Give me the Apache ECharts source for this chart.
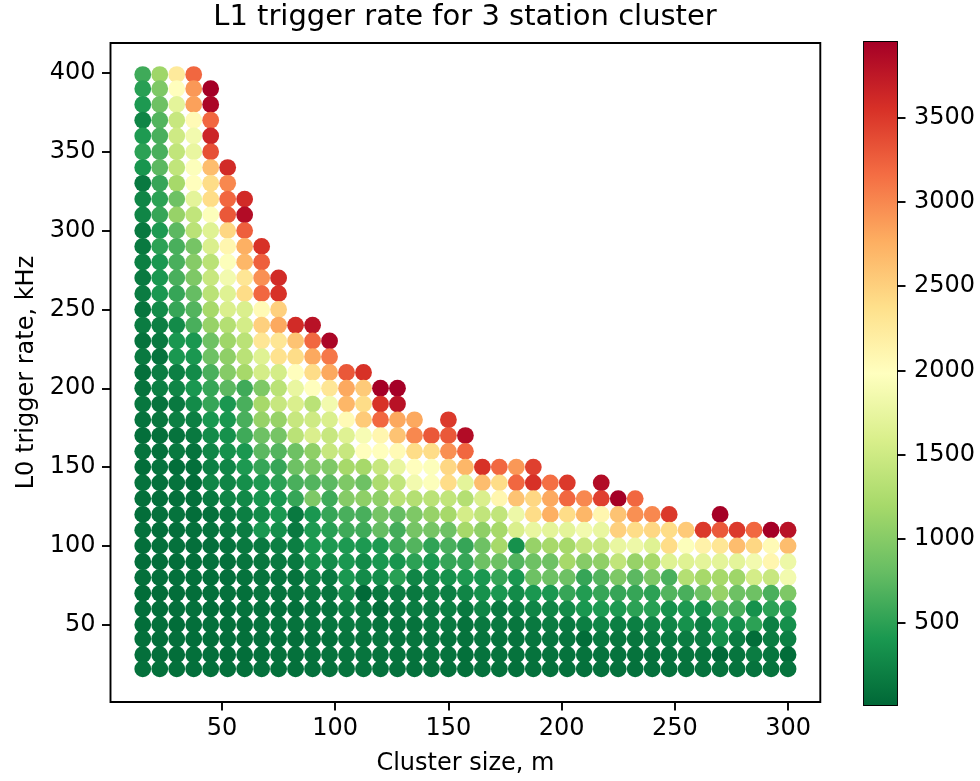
<!DOCTYPE html>
<html>
<head>
<meta charset="utf-8">
<script src="https://cdn.jsdelivr.net/npm/echarts@6/dist/echarts.min.js"></script>
<style>
html,body{margin:0;padding:0;background:#fff;}
#chart{width:980px;height:781px;}
</style>
</head>
<body>
<div id="chart"></div>
<script>
// Cluster sizes (x), one per column of dots
const clusterSize = [15, 22.5, 30, 37.5, 45, 52.5, 60, 67.5, 75, 82.5, 90, 97.5, 105, 112.5, 120, 127.5, 135, 142.5, 150, 157.5, 165, 172.5, 180, 187.5, 195, 202.5, 210, 217.5, 225, 232.5, 240, 247.5, 255, 262.5, 270, 277.5, 285, 292.5, 300];
// L0 trigger rate rows (y), bottom to top
const l0Rate = [22, 31, 41, 50, 60, 70, 80, 90, 100, 110, 120, 130, 140, 150, 160, 170, 180, 190, 200, 210, 220, 230, 240, 250, 260, 270, 280, 290, 300, 310, 320, 330, 340, 350, 360, 370, 380, 390, 399];
// L1 trigger rate per column, listed from the top dot of the column down to the bottom dot
const l1Rate = [
  [600,480,420,250,430,500,380,150,250,250, 150,150,200,150,180,120,180,100,150,80, 100,140,100,70,100,60,100,80,60,90, 70,60,80,50,70,60,80,70,90],
  [1150,950,850,700,650,650,750,550,500,550, 420,500,400,400,400,300,200,150,100,180, 200,100,130,80,80,100,80,70,90,60, 80,60,70,50,60,80,60,70,80],
  [2250,2000,1700,1450,1500,1400,1400,1200,850,1100, 750,650,650,650,550,550,300,400,400,200, 250,150,200,100,150,60,100,80,100,70, 90,60,80,60,70,50,70,60,80],
  [3200,2900,2850,2050,1850,1750,1950,2000,1700,1400, 1350,900,1000,950,800,700,650,400,400,300, 400,300,200,150,100,80,50,80,60,90, 70,60,80,60,90,70,60,80,70],
  [3950,3900,3200,3650,3350,2650,2400,2400,1950,1650, 1600,1350,1450,1350,1200,1100,850,850,650,550, 550,400,300,250,200,250,150,80,100, 70,80,60,70,50,80,60,70,80],
  [3600,3000,3200,3300,2450,2100,1950,1850,1650,1600, 1300,1150,1050,1000,750,400,400,350,350,250, 250,250,150,150,100,80,70,90,60,80,70,60,80],
  [3600,3850,3250,2750,2700,2300,2400,1600,1550,1350, 1350,1200,600,650,650,600,400,420,330,280, 200,180,150,120,100,80,100,70,80,60,80],
  [3550,3250,2950,3200,2050,2500,2300,1650,1550,950, 1200,1100,850,750,550,420,380,300,400,150, 130,100,120,80,100,70,80,90],
  [3600,3550,2500,2800,2300,2350,1550,1350,1450,1100, 900,700,550,500,400,400,330,200,150,120, 100,80,100,70,90,80],
  [3600,2600,2400,2000,1750,1600,1450,1350,850,850, 650,550,150,150,200,150,100,120,80,100, 70,90,80],
  [3800,3200,2800,2400,2000,1350,1500,1600,1050,950, 700,950,400,420,400,350,200,150,100,120, 80,100,90],
  [3900,3100,2800,2300,1850,1600,1450,1450,950,750, 600,550,480,420,300,150,120,100,120,80, 100,90],
  [3300,2800,2700,2050,1650,1450,1200,950,1000,650, 600,420,400,400,280,200,150,120,120,100],
  [3550,2550,2400,2550,1900,2000,1200,850,1050,650, 600,420,300,300,30,150,150,100,120,100],
  [3950,3550,3200,2100,2000,1450,1250,1050,900,800, 420,400,320,150,50,100,120,100,90],
  [3950,3800,2800,2600,2050,1750,1400,1350,800,620, 600,380,480,180,150,120,100,110,90],
  [2800,3000,2400,2000,1850,1300,950,900,700,500, 250,150,180,100,120,100,90],
  [3300,2400,1950,1950,1350,1100,900,520,410,280, 220,150,150,100,110,90],
  [3500,3300,2950,2450,2400,1400,1200,850,650,550, 350,200,200,150,100,100,80],
  [3850,3200,2700,1700,1300,1550,1200,550,550,420, 250,150,100,100,80,80],
  [3550,2650,1600,1400,1050,850,850,400,350,250, 150,120,100,90],
  [3200,2400,2100,1400,1200,1200,850,550,400,150, 150,100,100,90],
  [2900,3200,2600,1800,1600,350,700,400,300,200, 130,100,100,80],
  [3450,3550,2450,2400,1750,1100,850,850,400,250, 150,120,100,90],
  [3150,2800,2750,1700,1200,850,850,400,250,180, 120,100,90],
  [3500,3200,2400,1700,1200,1200,850,550,300,150, 120,100,90],
  [3000,2700,1850,1450,1000,550,450,400,200,50, 100,90],
  [3850,3450,2100,1750,1450,1050,700,550,420,250, 150,100,90],
  [3950,2600,2500,1750,1400,950,550,420,200,130, 100,90],
  [3200,2950,2400,1800,1100,750,550,500,200,130, 100,90],
  [3000,2450,1650,1200,950,500,480,250,150,100,90],
  [3500,2400,2400,1650,650,700,350,250,150,100,90],
  [2550,1950,1650,1300,650,420,350,180,120,100],
  [3500,2150,1700,1200,850,350,200,180,120,100],
  [3950,3300,2300,1700,1200,1100,650,400,330,30,100],
  [3500,2650,1700,1150,850,650,330,180,120,100],
  [3200,2450,1850,1550,850,350,500,50,180,100],
  [3950,2050,2100,1450,650,500,200,180,120,100],
  [3800,2650,1800,1850,950,500,330,200,50,100]
];
const xTicks = [50, 100, 150, 200, 250, 300];
const yTicks = [50, 100, 150, 200, 250, 300, 350, 400];
const colorbarTicks = [500, 1000, 1500, 2000, 2500, 3000, 3500];
const rateMin = 13;
const rateMax = 3950;
const rdYlGn = ['#006837','#1a9850','#66bd63','#a6d96a','#d9ef8b','#ffffbf','#fee08b','#fdae61','#f46d43','#d73027','#a50026'];

const points = [];
l1Rate.forEach(function (col, i) {
  const n = col.length;
  col.forEach(function (v, k) {
    points.push([clusterSize[i], l0Rate[n - 1 - k], v]);
  });
});

const FONT = 'DejaVu Sans';
const FS = 24;
const chart = echarts.init(document.getElementById('chart'), null, {renderer: 'canvas'});
const tickStyle = {color: '#000', width: 1.9};
const plain = function (v) { return String(v); };
function labelStyle(m) {
  return {margin: m, fontSize: FS, color: '#000', fontFamily: FONT, formatter: plain};
}

chart.setOption({
  animation: false,
  backgroundColor: '#fff',
  textStyle: {fontFamily: FONT},
  title: {
    text: 'L1 trigger rate for 3 station cluster',
    left: 465, top: 3, textAlign: 'center', padding: 0,
    textStyle: {fontSize: 29, fontWeight: 'normal', color: '#000', fontFamily: FONT}
  },
  grid: [
    {left: 110.5, top: 43, width: 709.8, height: 662, show: true, borderColor: '#000', borderWidth: 1.9, backgroundColor: 'rgba(0,0,0,0)'},
    {left: 864, top: 42, width: 33, height: 663, show: true, borderColor: '#000', borderWidth: 1.9, backgroundColor: 'rgba(0,0,0,0)'}
  ],
  xAxis: [
    {
      type: 'value', gridIndex: 0, min: 0.75, max: 314.25,
      name: 'Cluster size, m', nameLocation: 'middle', nameGap: 50,
      nameTextStyle: {fontSize: FS, color: '#000', fontFamily: FONT},
      axisLine: {show: false},
      axisTick: {show: true, length: 8.5, lineStyle: tickStyle, customValues: xTicks},
      axisLabel: Object.assign({customValues: xTicks}, labelStyle(15)),
      splitLine: {show: false}
    },
    {type: 'category', gridIndex: 1, data: ['colorbar'], show: false, boundaryGap: true}
  ],
  yAxis: [
    {
      type: 'value', gridIndex: 0, min: 1, max: 419,
      name: 'L0 trigger rate, kHz', nameLocation: 'middle', nameGap: 72,
      nameTextStyle: {fontSize: FS, color: '#000', fontFamily: FONT},
      axisLine: {show: false},
      axisTick: {show: true, length: 8.5, lineStyle: tickStyle, customValues: yTicks},
      axisLabel: Object.assign({customValues: yTicks}, labelStyle(15)),
      splitLine: {show: false}
    },
    {
      type: 'value', gridIndex: 1, position: 'right', min: rateMin, max: rateMax,
      axisLine: {show: false},
      axisTick: {show: true, length: 8.5, lineStyle: tickStyle, customValues: colorbarTicks},
      axisLabel: Object.assign({customValues: colorbarTicks}, labelStyle(17)),
      splitLine: {show: false}
    }
  ],
  visualMap: {
    type: 'continuous', show: false, seriesIndex: 0, dimension: 2,
    min: rateMin, max: rateMax, inRange: {color: rdYlGn}
  },
  series: [
    {
      type: 'scatter', xAxisIndex: 0, yAxisIndex: 0, data: points,
      symbolSize: 16.8, itemStyle: {opacity: 1, borderWidth: 0}
    },
    {
      type: 'bar', xAxisIndex: 1, yAxisIndex: 1, data: [rateMax], barWidth: '100%', silent: true,
      itemStyle: {
        color: new echarts.graphic.LinearGradient(0, 1, 0, 0,
          rdYlGn.map(function (c, i) { return {offset: i / (rdYlGn.length - 1), color: c}; }))
      }
    }
  ]
});
</script>
</body>
</html>
